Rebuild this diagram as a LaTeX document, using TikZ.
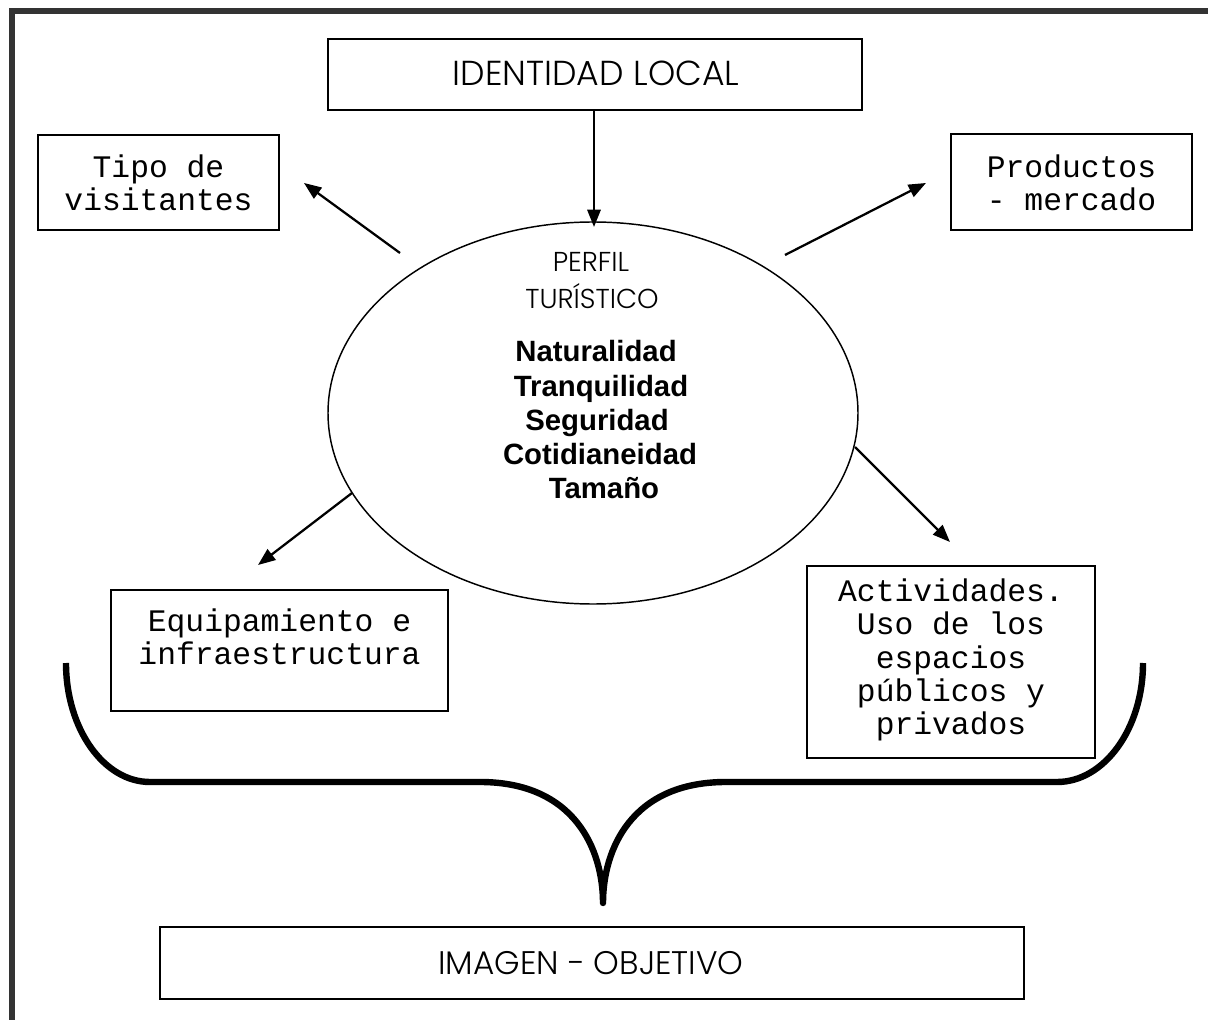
\documentclass[tikz,border=0pt]{standalone}
\usepackage{fontspec}
\usetikzlibrary{arrows.meta,shapes.geometric}
\IfFontExistsTF{Poppins Light}{\newfontfamily\gothic{Poppins Light}}{\newfontfamily\gothic{Poppins}}
\newfontfamily\monof{Liberation Mono}
\newfontfamily\arialf{Liberation Sans}
\definecolor{framegray}{HTML}{333333}
\begin{document}
\begin{tikzpicture}[x=0.75pt,y=-0.75pt,
  box/.style={draw=black,line width=1.1pt,rectangle,inner sep=0pt},
  monotext/.style={font=\monof\fontsize{23.5}{25}\selectfont,align=center,inner sep=0pt},
  gothictext/.style={font=\gothic\fontsize{26}{30}\selectfont,inner sep=0pt},
  boldtext/.style={font=\arialf\bfseries\fontsize{22}{26}\selectfont,inner sep=0pt,anchor=base},
  arr/.style={line width=1.7pt,-{Triangle[length=13pt,width=10pt]}},
  brace/.style={line width=4.8pt,line join=round,line cap=butt}]
\useasboundingbox (0,0) rectangle (1208,1020);
\fill[white] (0,0) rectangle (1208,1020);
% frame
\draw[framegray,line width=4.6pt,line join=miter] (12,1020) -- (12,11) -- (1208,11);
% boxes
\node[box,minimum width={534*0.75pt},minimum height={71*0.75pt}] (ident) at (595,74.5) {};
\node[gothictext] (identt) at (596,73) {IDENTIDAD LOCAL};
\node[box,minimum width={241*0.75pt},minimum height={95*0.75pt}] (tipo) at (158.5,182.5) {};
\node[monotext] (tipot) at (158.5,183) {Tipo de\\visitantes};
\node[box,minimum width={241*0.75pt},minimum height={96*0.75pt}] (prod) at (1071.5,182) {};
\node[monotext] (prodt) at (1071.5,183) {Productos\\- mercado};
\node[box,minimum width={337*0.75pt},minimum height={121*0.75pt}] (equip) at (279.5,650.5) {};
\node[monotext] (equipt) at (279.5,637) {Equipamiento e\\infraestructura};
\node[box,minimum width={288*0.75pt},minimum height={192*0.75pt}] (activ) at (951,662) {};
\node[monotext] (activt) at (951,660) {Actividades.\\Uso de los\\espacios\\públicos y\\privados};
\node[box,minimum width={864*0.75pt},minimum height={72*0.75pt}] (imagen) at (592,963) {};
\node[gothictext,font=\gothic\fontsize{24.5}{28}\selectfont] (imagent) at (591,963) {IMAGEN - OBJETIVO};
% ellipse
\node[draw,ellipse,line width=1.1pt,minimum width={530*0.75pt},minimum height={382*0.75pt},inner sep=0pt] (perfil) at (593,413) {};
\node[font=\gothic\fontsize{20.5}{24}\selectfont,inner sep=0pt,anchor=base] (p1) at (591,272) {PERFIL};
\node[font=\gothic\fontsize{20.5}{24}\selectfont,inner sep=0pt,anchor=base] (p2) at (592,309) {TURÍSTICO};
\node[boldtext] (b1) at (596,362) {Naturalidad};
\node[boldtext] (b2) at (601,396) {Tranquilidad};
\node[boldtext] (b3) at (597,430) {Seguridad};
\node[boldtext] (b4) at (600,464) {Cotidianeidad};
\node[boldtext] (b5) at (604,498) {Tamaño};
% arrows
\coordinate (c1s) at (594,110);
\coordinate (c1e) at (594,227);
\coordinate (c2s) at (400,253);
\coordinate (c2e) at (304,183);
\coordinate (c3s) at (785,255);
\coordinate (c3e) at (926,183);
\coordinate (c4s) at (352,493);
\coordinate (c4e) at (258,565);
\coordinate (c5s) at (855,447);
\coordinate (c5e) at (950,542);
\draw[arr] (c1s) -- (c1e);
\draw[arr] (c2s) -- (c2e);
\draw[arr] (c3s) -- (c3e);
\draw[arr] (c4s) -- (c4e);
\draw[arr] (c5s) -- (c5e);
% brace
\coordinate (bl) at (66,663);
\coordinate (br) at (1143,663);
\coordinate (btip) at (603,903);
\draw[brace] (bl) .. controls (66,729) and (104,782) .. (150,782)
  -- (480,782) .. controls (575,782) and (603,850) .. (btip)
  .. controls (603,850) and (631,782) .. (726,782)
  -- (1057,782) .. controls (1104,782) and (1143,729) .. (br);
\end{tikzpicture}
\end{document}
